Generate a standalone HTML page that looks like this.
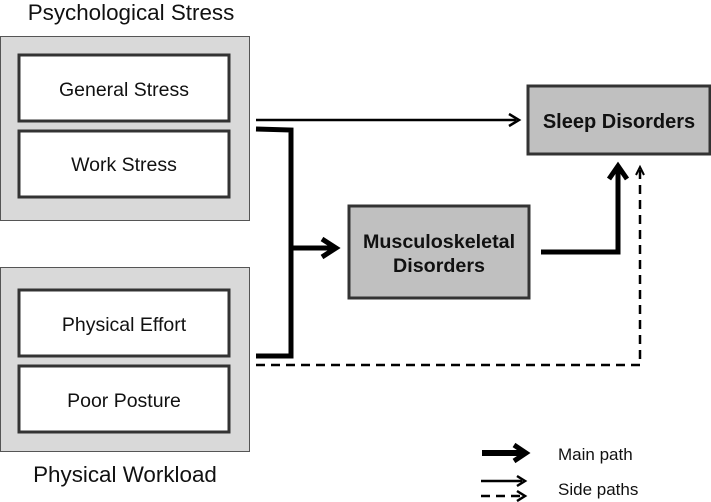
<!DOCTYPE html>
<html><head><style>
body{margin:0;background:#fff;}
svg{display:block;font-family:"Liberation Sans",Arial,sans-serif;}
</style></head><body>
<svg width="711" height="502" viewBox="0 0 711 502">
<text x="131" y="20" font-size="22.4" text-anchor="middle" fill="#111">Psychological Stress</text>
<rect x="0.5" y="36.5" width="249" height="184" fill="#d9d9d9" stroke="#555" stroke-width="1"/>
<rect x="19" y="55" width="210" height="66" fill="#fff" stroke="#333" stroke-width="3"/>
<rect x="19" y="131" width="210" height="66" fill="#fff" stroke="#333" stroke-width="3"/>
<text x="124" y="96" font-size="19.5" text-anchor="middle" fill="#111">General Stress</text>
<text x="124" y="171" font-size="19.5" text-anchor="middle" fill="#111">Work Stress</text>

<rect x="0.5" y="267.5" width="249" height="184" fill="#d9d9d9" stroke="#555" stroke-width="1"/>
<rect x="19" y="290" width="210" height="66" fill="#fff" stroke="#333" stroke-width="3"/>
<rect x="19" y="366" width="210" height="66" fill="#fff" stroke="#333" stroke-width="3"/>
<text x="124" y="331" font-size="19.5" text-anchor="middle" fill="#111">Physical Effort</text>
<text x="124" y="407" font-size="19.5" text-anchor="middle" fill="#111">Poor Posture</text>
<text x="125" y="482" font-size="22.4" text-anchor="middle" fill="#111">Physical Workload</text>

<rect x="528" y="86" width="182" height="68" fill="#c0c0c0" stroke="#333" stroke-width="3"/>
<text x="619" y="128" font-size="20" font-weight="bold" text-anchor="middle" fill="#111">Sleep Disorders</text>
<rect x="349" y="206" width="180" height="92" fill="#c0c0c0" stroke="#333" stroke-width="3"/>
<text x="439" y="248" font-size="19.7" font-weight="bold" text-anchor="middle" fill="#111">Musculoskeletal</text>
<text x="439" y="272" font-size="19.7" font-weight="bold" text-anchor="middle" fill="#111">Disorders</text>

<line x1="256" y1="120" x2="516" y2="120" stroke="#000" stroke-width="2.5"/>
<path d="M509,114 L519,120 L509,126" fill="none" stroke="#000" stroke-width="2.5"/>
<path d="M256,129 L291,130 L291,356 L256,356" fill="none" stroke="#000" stroke-width="5"/>
<line x1="291" y1="248" x2="334" y2="248" stroke="#000" stroke-width="5"/>
<path d="M322,239 L336,248 L322,257" fill="none" stroke="#000" stroke-width="5"/>
<path d="M541,252 L618,252 L618,167" fill="none" stroke="#000" stroke-width="5"/>
<path d="M609,179 L618,166 L627,179" fill="none" stroke="#000" stroke-width="5"/>
<path d="M256,365 L640,365 L640,170" fill="none" stroke="#000" stroke-width="2.5" stroke-dasharray="9,6"/>
<path d="M636,175 L640,167 L644,175" fill="none" stroke="#000" stroke-width="2"/>

<line x1="482" y1="453" x2="522" y2="453" stroke="#000" stroke-width="6"/>
<path d="M514,445 L526,453 L514,461" fill="none" stroke="#000" stroke-width="5"/>
<text x="558" y="460" font-size="17" fill="#111">Main path</text>
<line x1="481" y1="481" x2="522" y2="481" stroke="#000" stroke-width="2.5"/>
<path d="M517,476 L525,481 L517,486" fill="none" stroke="#000" stroke-width="2.5"/>
<line x1="481" y1="496" x2="520" y2="496" stroke="#000" stroke-width="2.5" stroke-dasharray="9,6"/>
<path d="M517,491 L525,496 L517,501" fill="none" stroke="#000" stroke-width="2.5"/>
<text x="558" y="495" font-size="17" fill="#111">Side paths</text>
</svg>
</body></html>
